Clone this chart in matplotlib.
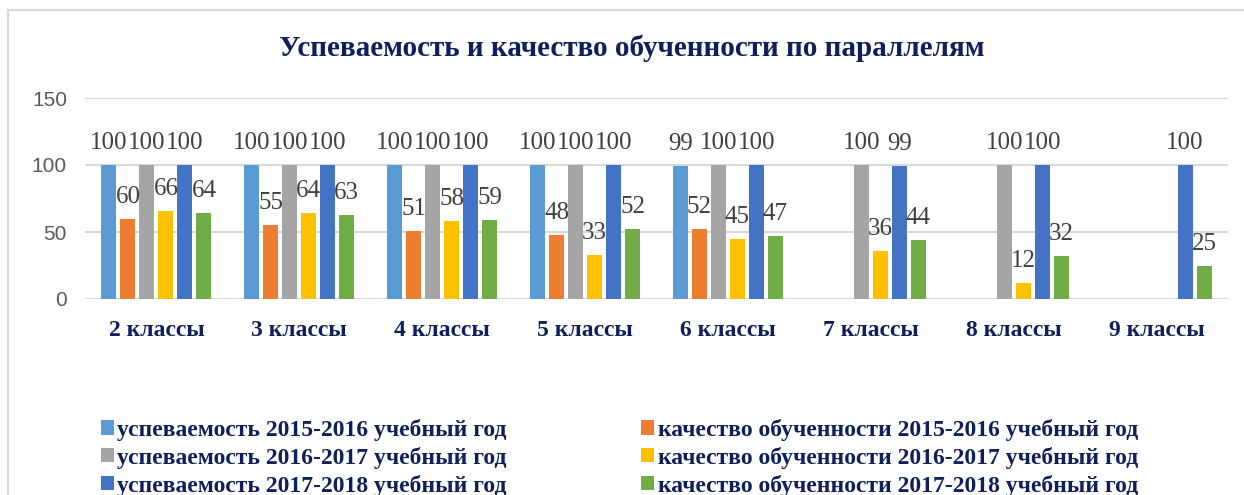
import numpy as np
import matplotlib
matplotlib.use("Agg")
import matplotlib.pyplot as plt
from matplotlib.patches import Rectangle, Patch

categories = ["2 классы", "3 классы", "4 классы", "5 классы", "6 классы", "7 классы", "8 классы", "9 классы"]
nan = np.nan
usp_2015 = [100, 100, 100, 100, 99, nan, nan, nan]
kach_2015 = [60, 55, 51, 48, 52, nan, nan, nan]
usp_2016 = [100, 100, 100, 100, 100, 100, 100, nan]
kach_2016 = [66, 64, 58, 33, 45, 36, 12, nan]
usp_2017 = [100, 100, 100, 100, 100, 99, 100, 100]
kach_2017 = [64, 63, 59, 52, 47, 44, 32, 25]

series = [
    ("успеваемость 2015-2016 учебный год", usp_2015, "#5B9BD5"),
    ("качество обученности 2015-2016 учебный год", kach_2015, "#ED7D31"),
    ("успеваемость 2016-2017 учебный год", usp_2016, "#A5A5A5"),
    ("качество обученности 2016-2017 учебный год", kach_2016, "#FFC000"),
    ("успеваемость 2017-2018 учебный год", usp_2017, "#4472C4"),
    ("качество обученности 2017-2018 учебный год", kach_2017, "#70AD47"),
]
yticks = [0, 50, 100, 150]

NAVY = "#0E1F5B"
W, H = 1244, 495
fig = plt.figure(figsize=(W / 100, H / 100), dpi=100)

# chart area border
fig.patches.append(Rectangle((8 / W, -0.1), 1.2, (H - 10) / H + 0.1, transform=fig.transFigure,
                             fill=False, edgecolor="#D9D9D9", linewidth=1.5))

ax = fig.add_axes([85 / W, 1 - 299 / H, (1228 - 85) / W, (299 - 98) / H])
x = np.arange(len(categories))
pitch = 0.133
bw = 0.105
n = len(series)
handles = []
for i, (name, vals, col) in enumerate(series):
    off = (i - (n - 1) / 2) * pitch
    v = np.array(vals, dtype=float)
    ax.bar(x + off, v, width=bw, color=col, zorder=3)
    for xi, vi in zip(x + off, v):
        if not np.isnan(vi):
            ax.annotate(f"{int(vi)}", (xi, vi), xytext=(0, 11), textcoords="offset pixels",
                        ha="center", va="bottom", fontsize=18, family="Liberation Serif",
                        color="#404040", zorder=4)
    handles.append(Patch(facecolor=col, label=name))

ax.set_xlim(-0.5, len(categories) - 0.5)
ax.set_ylim(0, 150)
ax.set_yticks(yticks)
ax.set_yticklabels([str(t) for t in yticks], fontsize=15, family="Liberation Sans", color="#595959")
ax.set_xticks(x)
ax.set_xticklabels(categories, fontsize=17, family="Liberation Serif", fontweight="bold", color=NAVY)
ax.tick_params(axis="both", length=0)
ax.tick_params(axis="x", pad=15)
ax.tick_params(axis="y", pad=13)
ax.grid(axis="y", color="#D9D9D9", linewidth=1.5, zorder=0)
for s in ax.spines.values():
    s.set_visible(False)

fig.text(632 / W, 1 - 48 / H, "Успеваемость и качество обученности по параллелям",
         ha="center", va="center", fontsize=21, family="Liberation Serif", fontweight="bold", color=NAVY)

order = [0, 2, 4, 1, 3, 5]
leg = fig.legend([handles[k] for k in order], [handles[k].get_label() for k in order],
                 ncol=2, loc="upper left", bbox_to_anchor=(89 / W, 1 - 407 / H),
                 frameon=False, prop={"family": "Liberation Serif", "weight": "bold", "size": 17},
                 handlelength=0.55, handleheight=0.55, handletextpad=0.15,
                 columnspacing=5.7, labelspacing=0.25, borderpad=0)
for t in leg.get_texts():
    t.set_color(NAVY)

fig.savefig("out.png", dpi=100)
